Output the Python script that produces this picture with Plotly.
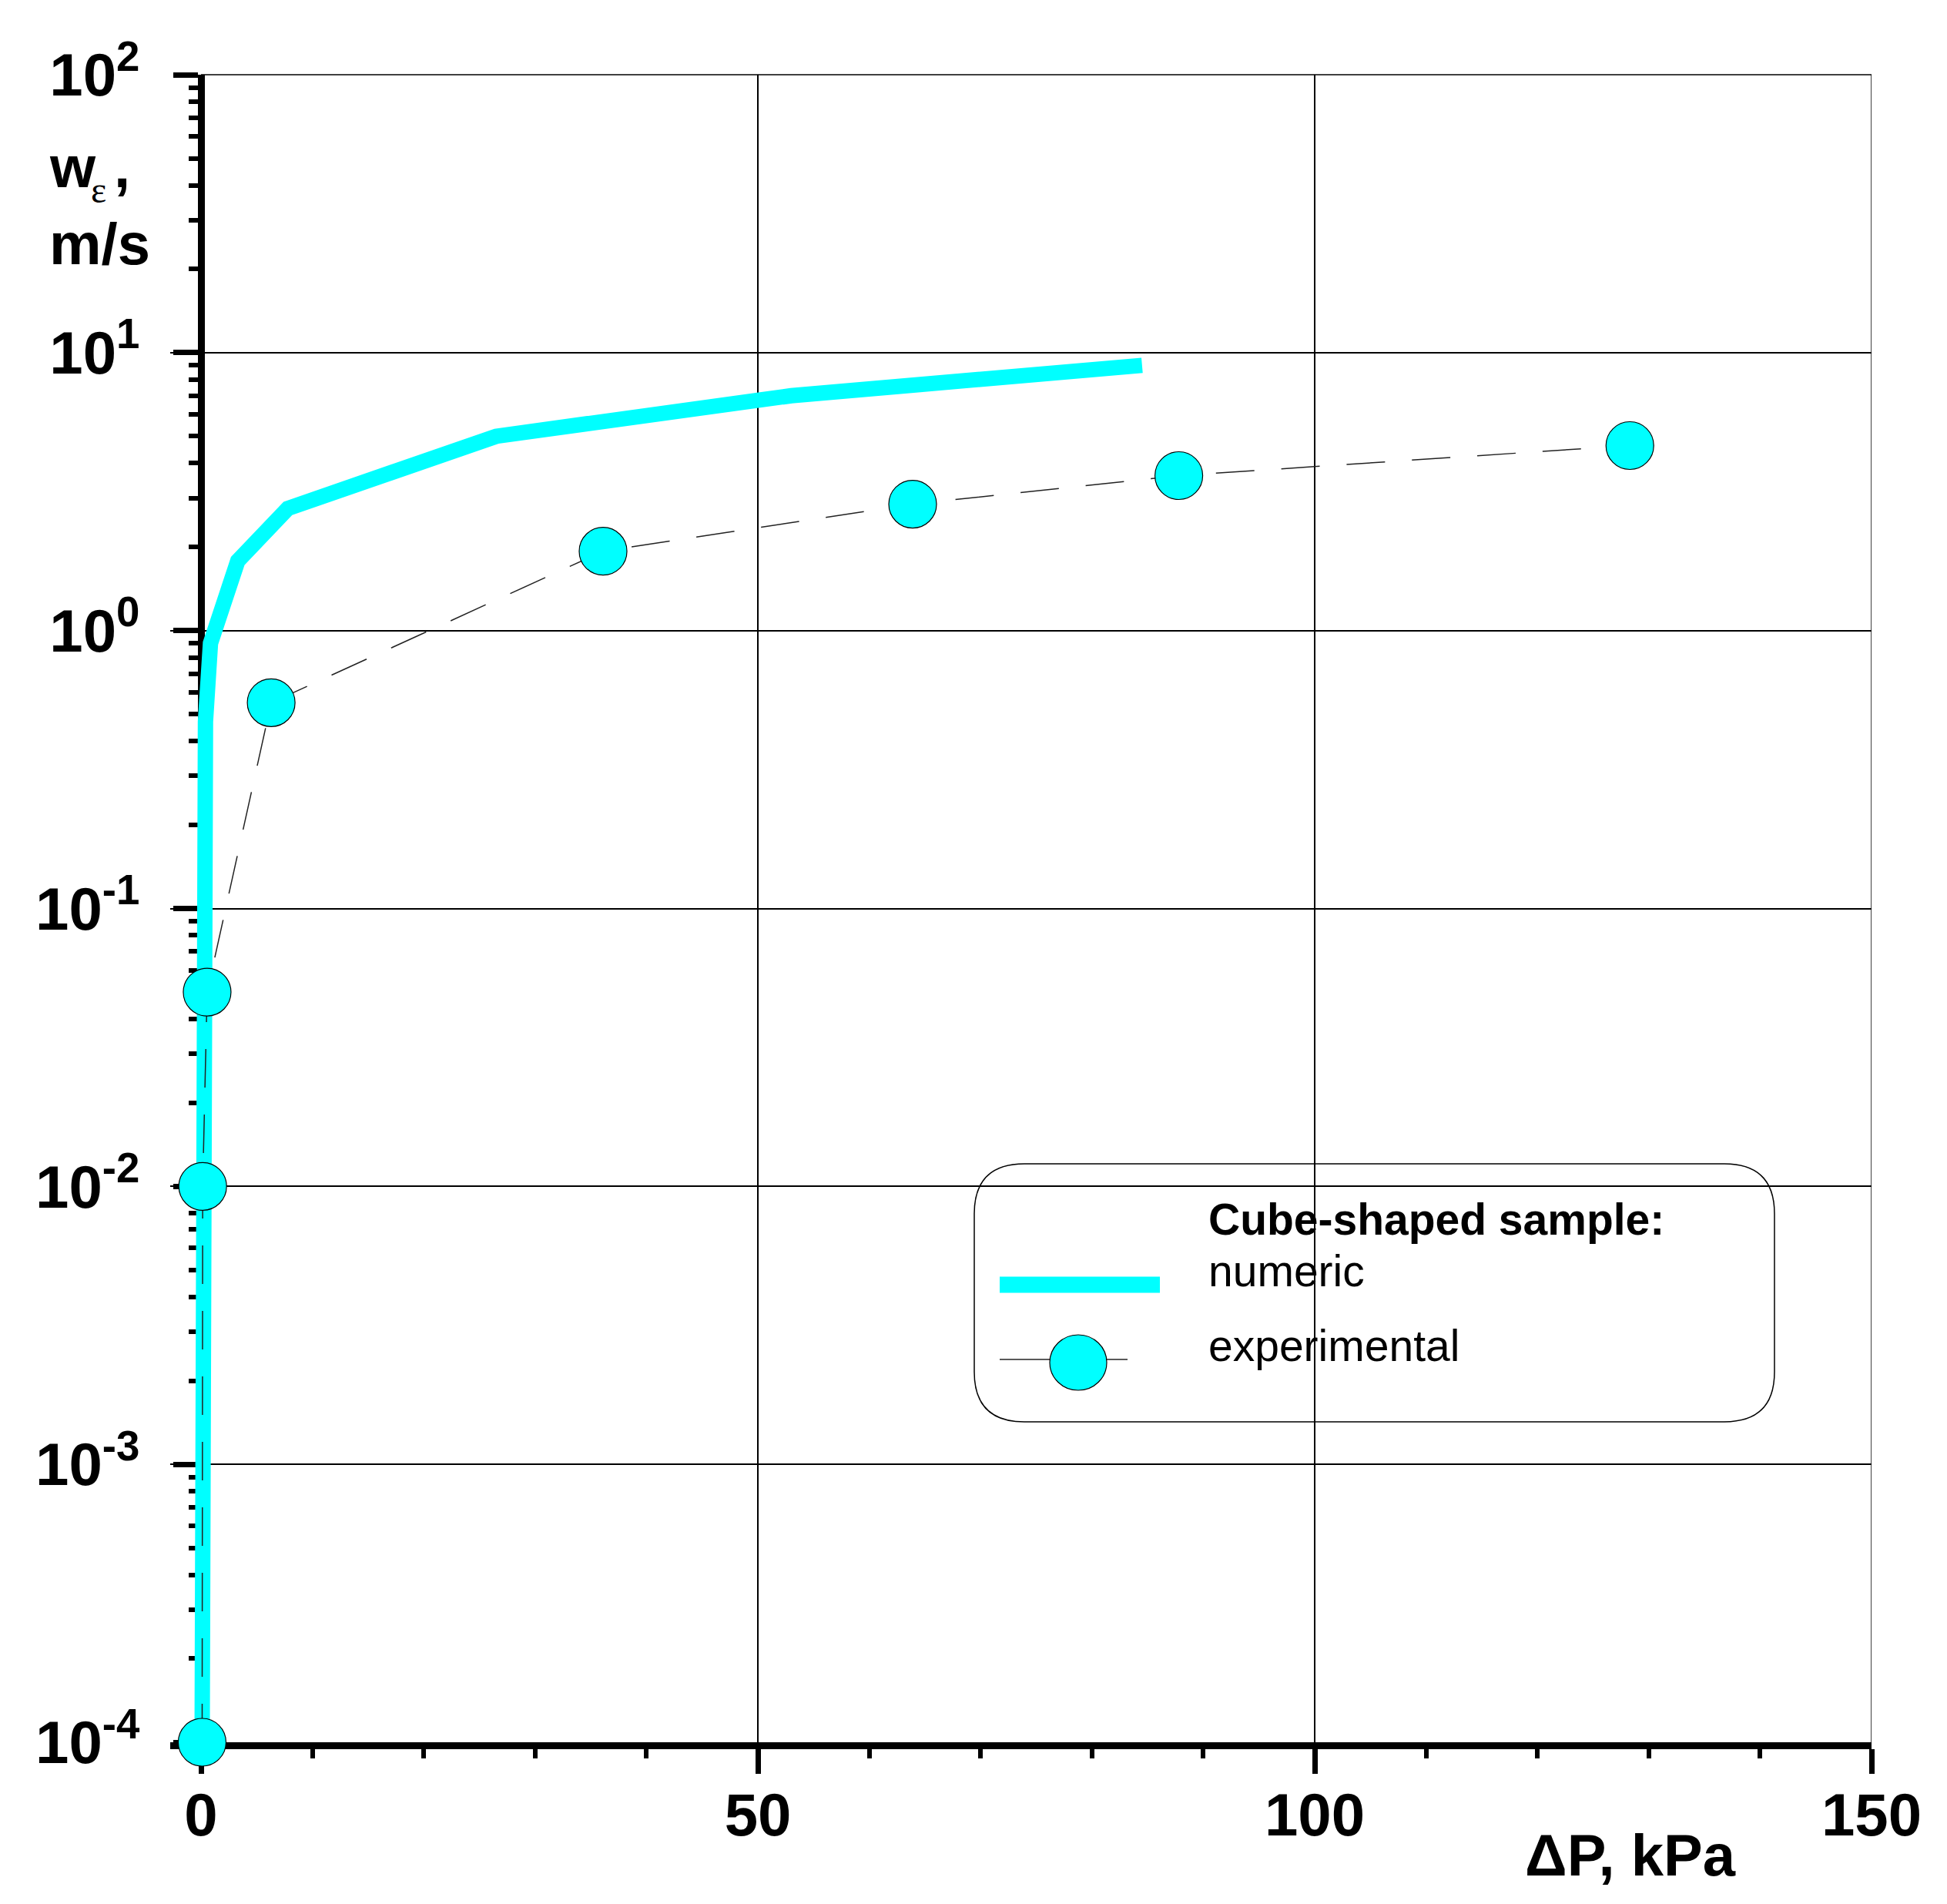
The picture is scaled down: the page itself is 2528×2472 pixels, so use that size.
import plotly.graph_objects as go

# ---------------- data ----------------
num_dp = [0.1, 0.1, 0.12, 0.16, 0.4, 0.85, 3.3, 7.8, 26.5, 53.0, 84.5]
num_w = [1e-4, 1e-2, 0.1, 0.25, 0.47, 0.9, 1.78, 2.75, 5.0, 7.0, 9.0]

exp_dp = [0.1, 0.15, 0.55, 6.3, 36.1, 63.9, 87.8, 128.3]
exp_w = [1e-4, 1e-2, 0.05, 0.55, 1.93, 2.85, 3.61, 4.63]

x_tickvals = [0, 50, 100, 150]
x_ticktext = ["0", "50", "100", "150"]
y_exponents = [-4, -3, -2, -1, 0, 1, 2]

legend_title = "Cube-shaped sample:"
legend_labels = ["numeric", "experimental"]

# ---------------- geometry (page pixels) ----------------
BODY = 8                      # default page margin of the html body
W, H = 2528 - 2 * BODY, 2472 - 2 * BODY
L, R, T, B = 261, 2430, 97, 2262   # visible axes box
PL = L - 40                   # drawing area starts a bit left so the thick line isn't clipped
X_MIN, X_MAX = 0, 150
S = (R - L) / (X_MAX - X_MIN)
FONT = "Liberation Sans, Arial, sans-serif"
CYAN = "#00FFFF"


def px(x):
    return (x - PL) / (R - PL)


def py(y):
    return (B - y) / (B - T)


fig = go.Figure()

fig.add_trace(go.Scatter(
    x=num_dp, y=num_w, mode="lines",
    line=dict(color=CYAN, width=20),
    cliponaxis=False, hoverinfo="skip"))

fig.add_trace(go.Scatter(
    x=exp_dp, y=exp_w, mode="lines+markers",
    line=dict(color="#222222", width=1.5, dash="50px,35px"),
    marker=dict(size=62, color=CYAN, line=dict(color="black", width=1.2)),
    cliponaxis=False, hoverinfo="skip"))

y_tickvals = [10.0 ** e for e in y_exponents]
y_ticktext = ["10<sup>%d</sup>" % e for e in y_exponents]
y_minor = [k * 10.0 ** e for e in y_exponents[:-1] for k in range(2, 10)]

fig.update_layout(
    xaxis=dict(
        domain=[0, 1], anchor="y",
        range=[X_MIN - (L - PL) / S, X_MAX], tickmode="array",
        tickvals=x_tickvals, ticktext=x_ticktext,
        ticks="outside", ticklen=32, tickwidth=7, tickcolor="black",
        showline=True, linewidth=9, linecolor="black",
        showgrid=True, gridcolor="black", gridwidth=1.5, zeroline=False,
        layer="below traces", ticklabelstandoff=-14,
        tickfont=dict(family=FONT, size=78, color="black", weight="bold"),
        minor=dict(tickmode="linear", tick0=0, dtick=10, ticks="outside", ticklen=12,
                   tickwidth=6, tickcolor="black", showgrid=False),
    ),
    yaxis=dict(
        domain=[0, 1], anchor="free", position=px(L),
        type="log", range=[y_exponents[0], y_exponents[-1]],
        tickmode="array", tickvals=y_tickvals, ticktext=y_ticktext,
        ticks="outside", ticklen=32, tickwidth=7, tickcolor="black",
        showline=True, linewidth=9, linecolor="black",
        showgrid=True, gridcolor="black", gridwidth=1.5, zeroline=False,
        layer="below traces", ticklabelstandoff=28,
        tickfont=dict(family=FONT, size=78, color="black", weight="bold"),
        minor=dict(tickmode="array", tickvals=y_minor, ticks="outside", ticklen=12,
                   tickwidth=6, tickcolor="black", showgrid=False),
    ),
)

# ---------------- axis titles ----------------
TF = dict(family=FONT, size=76, color="black")
ann = [
    dict(x=px(62), y=py(216), xanchor="left", yanchor="middle", text="<b>w</b>", font=TF),
    dict(x=px(116), y=py(246), xanchor="left", yanchor="middle", text="ε",
         font=dict(family="Liberation Serif, Times New Roman, serif", size=48, color="black")),
    dict(x=px(146), y=py(216), xanchor="left", yanchor="middle", text="<b>,</b>", font=TF),
    dict(x=px(62), y=py(316), xanchor="left", yanchor="middle", text="<b>m/s</b>", font=TF),
    dict(x=px(2117), y=py(2408), xanchor="center", yanchor="middle",
         text="<b>ΔP, kPa</b>", font=TF),
]

# ---------------- legend ----------------
bx0, by0, bx1, by1, rad = 1265, 1511, 2304, 1846, 65
X0, X1 = px(bx0), px(bx1)
Y0, Y1 = py(by1), py(by0)
rx = rad / (R - PL)
ry = rad / (B - T)
path = (f"M {X0+rx},{Y0} L {X1-rx},{Y0} Q {X1},{Y0} {X1},{Y0+ry} "
        f"L {X1},{Y1-ry} Q {X1},{Y1} {X1-rx},{Y1} L {X0+rx},{Y1} "
        f"Q {X0},{Y1} {X0},{Y1-ry} L {X0},{Y0+ry} Q {X0},{Y0} {X0+rx},{Y0} Z")
shapes = [
    # edge grid lines at the top decade and at the last x tick
    dict(type="line", xref="x", yref="paper", x0=X_MAX, x1=X_MAX, y0=0, y1=1,
         line=dict(color="black", width=1.5), layer="below"),
    dict(type="line", xref="paper", yref="paper", x0=px(L), x1=1, y0=1, y1=1,
         line=dict(color="black", width=1.5), layer="below"),
    # cover the short stub of the bottom axis line left of the y axis
    dict(type="rect", xref="paper", yref="paper", x0=0, x1=px(L - 9),
         y0=py(B + 12), y1=py(B + 1), fillcolor="white", line=dict(width=0), layer="below"),
    dict(type="path", path=path, xref="paper", yref="paper",
         fillcolor="white", line=dict(color="black", width=1.5), layer="between"),
    dict(type="line", xref="paper", yref="paper", x0=px(1298), x1=px(1506),
         y0=py(1668), y1=py(1668), line=dict(color=CYAN, width=21), layer="above"),
    dict(type="line", xref="paper", yref="paper", x0=px(1298), x1=px(1464),
         y0=py(1765), y1=py(1765), line=dict(color="#222222", width=1.5), layer="above"),
    dict(type="circle", xref="paper", yref="paper", xsizemode="pixel", ysizemode="pixel",
         xanchor=px(1400), yanchor=py(1769), x0=-37, x1=37, y0=-36, y1=36,
         fillcolor=CYAN, line=dict(color="black", width=1.2), layer="above"),
]

LF = dict(family=FONT, size=57, color="black")
ann += [
    dict(x=px(1567), y=py(1583), xanchor="left", yanchor="middle",
         text="<b>%s</b>" % legend_title, font=LF),
    dict(x=px(1567), y=py(1650), xanchor="left", yanchor="middle",
         text=legend_labels[0], font=LF),
    dict(x=px(1567), y=py(1747), xanchor="left", yanchor="middle",
         text=legend_labels[1], font=LF),
]
for a in ann:
    a.update(xref="paper", yref="paper", showarrow=False)

fig.update_layout(
    width=W, height=H,
    margin=dict(l=PL - BODY, r=(BODY + W) - R, t=T - BODY, b=(BODY + H) - B, pad=0),
    plot_bgcolor="rgba(0,0,0,0)", paper_bgcolor="white",
    showlegend=False,
    annotations=ann, shapes=shapes,
    font=dict(family=FONT, color="black"),
)

fig.write_html("out.html")
